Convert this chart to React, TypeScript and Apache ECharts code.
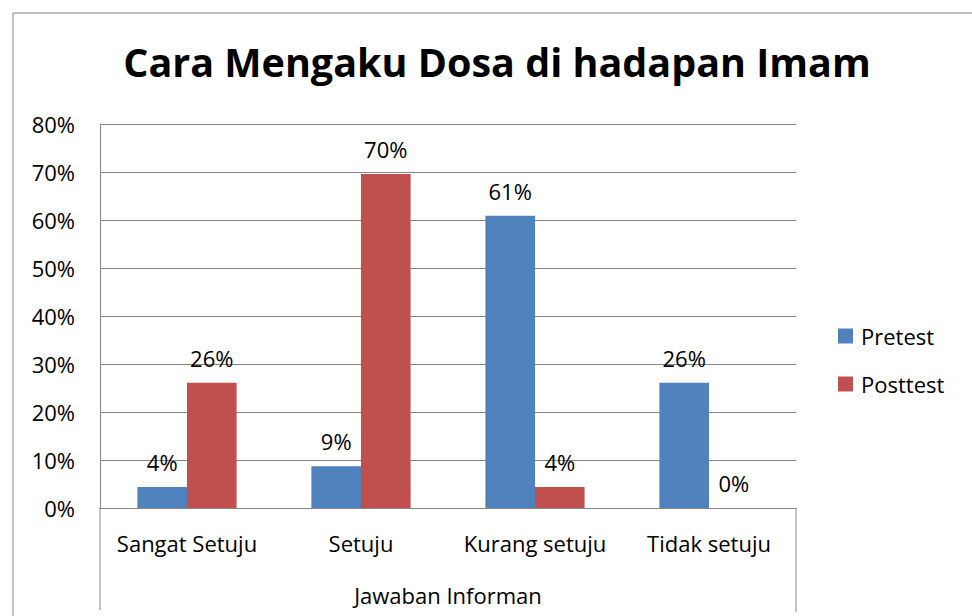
import React, { useEffect, useRef } from "react";
import * as echarts from "echarts";

const titleText = "Cara Mengaku Dosa di hadapan Imam";
const categories = ["Sangat Setuju", "Setuju", "Kurang setuju", "Tidak setuju"];
const seriesNames = ["Pretest", "Posttest"];
const pretest = [4.35, 8.7, 60.87, 26.09];
const posttest = [26.09, 69.57, 4.35, 0];
const axisName = "Jawaban Informan";
const yMin = 0;
const yMax = 80;
const yInterval = 10;

const FONT = "'Open Sans', 'Noto Sans', sans-serif";
const GRID = { left: 100, top: 124, width: 696, height: 384 };
const LINE = "#868686";

export default function App() {
  const ref = useRef<HTMLDivElement>(null);
  useEffect(() => {
    if (!ref.current) return;
    const chart = echarts.init(ref.current, undefined, { renderer: "svg" });
    const bottomY = GRID.top + GRID.height;
    const rightX = GRID.left + GRID.width;
    const labelStyle = {
      show: true,
      position: "top" as const,
      distance: 14,
      fontFamily: FONT,
      fontSize: 22,
      color: "#000",
      formatter: (p: any) => Math.round(p.value) + "%",
    };
    chart.setOption({
      animation: false,
      backgroundColor: "#fff",
      title: {
        text: titleText,
        left: 492,
        top: 37,
        textAlign: "center",
        textStyle: { fontFamily: FONT, fontSize: 39.5, fontWeight: "bold", color: "#000" },
      },
      legend: {
        orient: "vertical",
        left: 838,
        top: 325,
        padding: 0,
        itemWidth: 15,
        itemHeight: 15,
        itemGap: 26,
        icon: "rect",
        data: seriesNames,
        textStyle: {
          fontFamily: FONT,
          fontSize: 22,
          lineHeight: 22,
          color: "#000",
          padding: [0, 0, 0, 3],
        },
      },
      grid: { ...GRID, containLabel: false },
      xAxis: {
        type: "category",
        data: categories,
        name: axisName,
        nameLocation: "middle",
        nameGap: 76,
        nameTextStyle: { fontFamily: FONT, fontSize: 22, color: "#000" },
        axisLine: { show: true, lineStyle: { color: LINE, width: 1 } },
        axisTick: { show: false },
        axisLabel: { fontFamily: FONT, fontSize: 22, color: "#000", margin: 24, interval: 0 },
      },
      yAxis: {
        type: "value",
        min: yMin,
        max: yMax,
        interval: yInterval,
        axisLine: { show: true, lineStyle: { color: LINE, width: 1 } },
        axisTick: { show: false },
        axisLabel: {
          fontFamily: FONT,
          fontSize: 22,
          color: "#000",
          margin: 25,
          formatter: (v: number) => v + "%",
        },
        splitLine: { show: true, lineStyle: { color: LINE, width: 1 } },
      },
      series: [
        {
          name: seriesNames[0],
          type: "bar",
          data: pretest,
          itemStyle: { color: "#4F81BD" },
          barGap: "0%",
          barCategoryGap: "43%",
          label: labelStyle,
        },
        {
          name: seriesNames[1],
          type: "bar",
          data: posttest,
          itemStyle: { color: "#C0504D" },
          barGap: "0%",
          barCategoryGap: "43%",
          label: labelStyle,
        },
      ],
      graphic: [
        {
          type: "rect",
          shape: { x: 13, y: 13, width: 1000, height: 700 },
          style: { fill: "none", stroke: LINE, lineWidth: 1 },
          silent: true,
        },
        {
          type: "line",
          shape: { x1: GRID.left, y1: bottomY, x2: GRID.left, y2: 610 },
          style: { stroke: LINE, lineWidth: 1 },
          silent: true,
        },
        {
          type: "line",
          shape: { x1: rightX, y1: bottomY, x2: rightX, y2: 612 },
          style: { stroke: LINE, lineWidth: 1 },
          silent: true,
        },
      ],
    });
    return () => chart.dispose();
  }, []);
  return (
    <div
      ref={ref}
      style={{ position: "absolute", left: 0, top: 0, width: 972, height: 616 }}
    />
  );
}
